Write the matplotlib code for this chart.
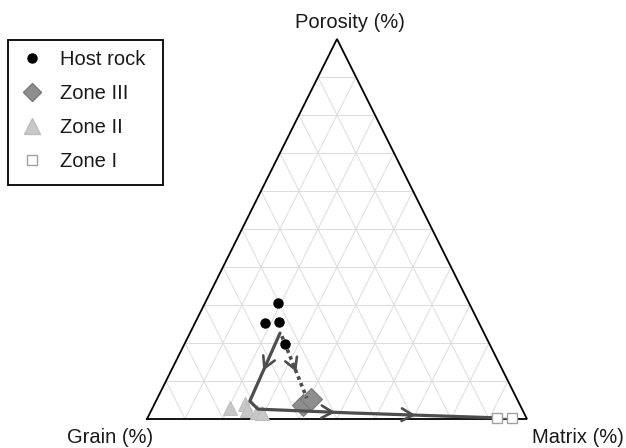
import matplotlib
matplotlib.use("Agg")
import matplotlib.pyplot as plt
import numpy as np
from matplotlib.lines import Line2D
from matplotlib.patches import Rectangle

plt.rcParams['font.family'] = ['Liberation Sans', 'DejaVu Sans']

# Compositions as fractions: grain, matrix, porosity
host_grain = [0.503, 0.563, 0.525, 0.539]
host_matrix = [0.192, 0.184, 0.220, 0.264]
host_poro = [0.305, 0.253, 0.255, 0.197]

zone3_grain = [0.571, 0.542]
zone3_matrix = [0.392, 0.405]
zone3_poro = [0.037, 0.053]

zone2_grain = [0.767, 0.723, 0.725, 0.702, 0.689]
zone2_matrix = [0.204, 0.238, 0.251, 0.280, 0.295]
zone2_poro = [0.029, 0.039, 0.024, 0.018, 0.016]

zone1_grain = [0.077, 0.038]
zone1_matrix = [0.920, 0.959]
zone1_poro = [0.003, 0.003]

# Evolution paths: host rock -> zone II -> zone I, and host rock -> zone III
main_grain = [0.537, 0.706, 0.695, 0.458, 0.077]
main_matrix = [0.237, 0.247, 0.279, 0.526, 0.920]
main_poro = [0.226, 0.047, 0.026, 0.016, 0.003]

side_grain = [0.536, 0.552]
side_matrix = [0.246, 0.393]
side_poro = [0.218, 0.055]

axis_labels = ["Porosity (%)", "Grain (%)", "Matrix (%)"]
legend_labels = ["Host rock", "Zone III", "Zone II", "Zone I"]


def to_xy(g, m, p):
    g, m, p = (np.asarray(v, dtype=float) for v in (g, m, p))
    s = g + m + p
    m, p = m / s, p / s
    return m + p / 2.0, p


W, H = 626, 448
fig = plt.figure(figsize=(W / 100, H / 100), dpi=100)
ax = fig.add_axes([0, 0, 1, 1])
ax.set_xlim(-147 / 380, (W - 147) / 380)
ax.set_ylim(-29 / 380, (H - 29) / 380)
ax.axis('off')

# 10 % grid lines
grid_kw = dict(color='#dcdcdc', lw=0.7, zorder=1)
for i in range(1, 10):
    f = i / 10
    x, y = to_xy([1 - f, 0], [0, 1 - f], [f, f])
    ax.plot(x, y, **grid_kw)
    x, y = to_xy([1 - f, 0], [f, f], [0, 1 - f])
    ax.plot(x, y, **grid_kw)
    x, y = to_xy([f, f], [1 - f, 0], [0, 1 - f])
    ax.plot(x, y, **grid_kw)

# Triangle outline
x, y = to_xy([1, 0, 0, 1], [0, 1, 0, 0], [0, 0, 1, 0])
ax.plot(x, y, color='black', lw=1.3, zorder=2, solid_joinstyle='miter')

path_color = '#4d4d4d'


def arrow_on(xs, ys, seg, frac, color, lw):
    x0, y0, x1, y1 = xs[seg], ys[seg], xs[seg + 1], ys[seg + 1]
    px, py = x0 + frac * (x1 - x0), y0 + frac * (y1 - y0)
    d = np.hypot(x1 - x0, y1 - y0)
    ux, uy = (x1 - x0) / d, (y1 - y0) / d
    eps = 0.01
    ax.annotate('', xy=(px + ux * eps, py + uy * eps),
                xytext=(px - ux * eps, py - uy * eps),
                arrowprops=dict(arrowstyle='->,head_length=0.8,head_width=0.45',
                                color=color, lw=lw, shrinkA=0, shrinkB=0),
                zorder=5)


# Main path
mx, my = to_xy(main_grain, main_matrix, main_poro)
ax.plot(mx, my, color=path_color, lw=2.3, solid_joinstyle='round',
        solid_capstyle='round', zorder=5)
arrow_on(mx, my, 0, 0.5, path_color, 1.9)
arrow_on(mx, my, 2, 0.8, path_color, 1.9)
arrow_on(mx, my, 3, 0.42, path_color, 1.9)

# Side path
sx, sy = to_xy(side_grain, side_matrix, side_poro)
ax.plot(sx, sy, color=path_color, lw=2.6, linestyle=(0, (1, 1)), zorder=5)
arrow_on(sx, sy, 0, 0.52, path_color, 1.9)

# Points
x, y = to_xy(zone2_grain, zone2_matrix, zone2_poro)
ax.plot(x, y, linestyle='none', marker='^', ms=10.5, mfc='#c8c8c8',
        mec='#bdbdbd', mew=0.8, zorder=4)
x, y = to_xy(zone3_grain, zone3_matrix, zone3_poro)
ax.plot(x, y, linestyle='none', marker='D', ms=11.5, mfc='#8e8e8e',
        mec='#7a7a7a', mew=0.8, zorder=4)
x, y = to_xy(zone1_grain, zone1_matrix, zone1_poro)
ax.plot(x, y, linestyle='-', lw=1.0, color='#6a6a6a', zorder=5)
ax.plot(x, y, linestyle='none', marker='s', ms=7, mfc='white',
        mec='#a0a0a0', mew=1.0, zorder=6)
x, y = to_xy(host_grain, host_matrix, host_poro)
ax.plot(x, y, linestyle='none', marker='o', ms=6.5, mfc='black',
        mec='black', zorder=6)

# Vertex labels
fs = 14.5
fig.text(350 / W, 1 - 23 / H, axis_labels[0], ha='center', va='center',
         fontsize=fs, color='#1a1a1a')
fig.text(110 / W, 1 - 437 / H, axis_labels[1], ha='center', va='center',
         fontsize=fs, color='#1a1a1a')
fig.text(578 / W, 1 - 437 / H, axis_labels[2], ha='center', va='center',
         fontsize=fs, color='#1a1a1a')

# Legend
handles = [
    Line2D([], [], linestyle='none', marker='o', ms=6.5, mfc='black', mec='black'),
    Line2D([], [], linestyle='none', marker='D', ms=9, mfc='#8e8e8e', mec='#7a7a7a'),
    Line2D([], [], linestyle='none', marker='^', ms=11, mfc='#c8c8c8', mec='#bdbdbd'),
    Line2D([], [], linestyle='none', marker='s', ms=7, mfc='white', mec='#a0a0a0'),
]
leg = fig.legend(handles, legend_labels, loc='upper left',
                 bbox_to_anchor=(8 / W, 1 - 40 / H), borderaxespad=0,
                 fontsize=fs, frameon=False,
                 borderpad=0.5, handlelength=1.4, handletextpad=0.7,
                 labelspacing=0.75)
for t in leg.get_texts():
    t.set_color('#1a1a1a')
fig.patches.append(Rectangle((8 / W, 1 - 185 / H), 155 / W, 145 / H,
                             transform=fig.transFigure, fill=False,
                             edgecolor='black', lw=1.3))

fig.savefig('out.png', dpi=100)
